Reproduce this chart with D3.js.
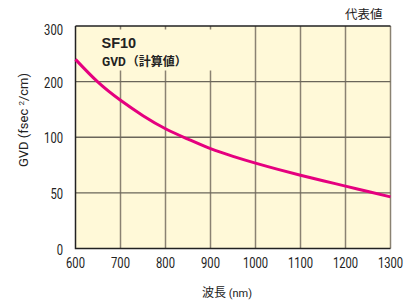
<!DOCTYPE html>
<html>
<head>
<meta charset="utf-8">
<script src="https://cdn.jsdelivr.net/npm/d3@7"></script>
<style>
  body { margin: 0; background: #fff; }
  text { font-family: "Liberation Sans Narrow", "Roboto", "Liberation Sans", sans-serif; fill: #222; }
  .cjk { font-family: "Noto Sans CJK JP", sans-serif; }
</style>
</head>
<body>
<svg></svg>
<script>
// wavelength (nm) and GVD (fsec^2/cm)
const wavelengths = [600, 650, 700, 750, 800, 850, 900, 950, 1000, 1050, 1100, 1150, 1200, 1250, 1300];
const gvd = [240, 199, 166.4, 138.8, 115.3, 98.3, 89.7, 82.8, 76.7, 71.1, 65.9, 60.9, 56.1, 51.2, 46.4];
const xTicks = [600, 700, 800, 900, 1000, 1100, 1200, 1300];
const yTicks = [0, 50, 100, 200, 300];

const width = 417, height = 303;
const plotL = 75.5, plotR = 390.5, plotT = 26, plotB = 248.5;

const svg = d3.select('svg').attr('width', width).attr('height', height);

const x = d3.scaleLinear().domain([600, 1300]).range([plotL, plotR]);
// y ticks are evenly spaced in pixels though not in value
const y = d3.scaleLinear()
  .domain(yTicks)
  .range(yTicks.map((d, i) => plotB - i * (plotB - plotT) / (yTicks.length - 1)));

svg.append('rect')
  .attr('x', plotL).attr('y', plotT)
  .attr('width', plotR - plotL).attr('height', plotB - plotT)
  .attr('fill', '#fff9d8');

// grid
svg.append('g').selectAll('line')
  .data(xTicks.slice(1))
  .enter().append('line')
  .attr('x1', d => x(d)).attr('x2', d => x(d))
  .attr('y1', plotT).attr('y2', plotB)
  .attr('stroke', '#8a8272').attr('stroke-width', 1.5);

svg.append('g').selectAll('line')
  .data([50, 100, 200])
  .enter().append('line')
  .attr('x1', plotL).attr('x2', plotR)
  .attr('y1', d => y(d)).attr('y2', d => y(d))
  .attr('stroke', '#6a665a').attr('stroke-width', 1.4);

// box behind the title
svg.append('rect')
  .attr('x', plotL + 1.5).attr('y', plotT + 3.5)
  .attr('width', 150).attr('height', 41)
  .attr('fill', '#fff9d8');

// frame
svg.append('path')
  .attr('d', `M${plotL},${plotT}H${plotR}M${plotL},${plotT}V${plotB}H${plotR}`)
  .attr('fill', 'none').attr('stroke', '#222').attr('stroke-width', 1.5);

// curve
const line = d3.line()
  .x((d, i) => x(wavelengths[i]))
  .y(d => y(d))
  .curve(d3.curveNatural);

svg.append('path')
  .datum(gvd)
  .attr('d', line)
  .attr('fill', 'none')
  .attr('stroke', '#e5007f')
  .attr('stroke-width', 3);

// x tick labels
svg.append('g').selectAll('text')
  .data(xTicks)
  .enter().append('text')
  .attr('x', d => x(d))
  .attr('y', 267.5)
  .attr('text-anchor', 'middle')
  .attr('font-size', 14)
  .attr('textLength', d => String(d).length * 6.3)
  .attr('lengthAdjust', 'spacingAndGlyphs')
  .text(d => d);

// y tick labels
svg.append('g').selectAll('text')
  .data(yTicks)
  .enter().append('text')
  .attr('x', 63)
  .attr('y', d => d === 300 ? 35 : y(d) + 6)
  .attr('text-anchor', 'end')
  .attr('font-size', 14)
  .attr('textLength', d => String(d).length * 6.3)
  .attr('lengthAdjust', 'spacingAndGlyphs')
  .text(d => d);

// titles
svg.append('text')
  .attr('x', 101.5).attr('y', 48)
  .attr('font-size', 14.5).attr('font-weight', 'bold')
  .style('font-family', '"Liberation Sans", Arial, sans-serif')
  .text('SF10');

const sub = svg.append('text')
  .attr('x', 102).attr('y', 65.5)
  .attr('font-size', 12).attr('font-weight', 'bold');
sub.append('tspan').text('GVD');
sub.append('tspan').attr('class', 'cjk').attr('font-weight', 'bold').attr('dx', 1).text('（計算値）');

svg.append('text')
  .attr('x', 345).attr('y', 19)
  .attr('class', 'cjk')
  .attr('font-size', 12.5)
  .text('代表値');

const xl = svg.append('text')
  .attr('x', 202).attr('y', 297)
  .attr('font-size', 12);
xl.append('tspan').attr('class', 'cjk').text('波長');
xl.append('tspan').attr('font-size', 11).text(' (nm)');

const yl = svg.append('text')
  .attr('transform', 'translate(28,120) rotate(-90)')
  .attr('text-anchor', 'middle')
  .attr('font-size', 13);
yl.append('tspan').text('GVD (fsec ');
yl.append('tspan').attr('font-size', 8).attr('dy', -4.5).text('2');
yl.append('tspan').attr('dy', 4.5).text('/cm)');
</script>
</body>
</html>
